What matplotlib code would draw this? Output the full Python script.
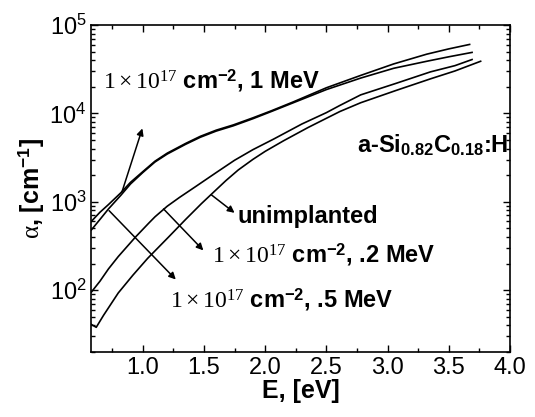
import matplotlib

matplotlib.use("Agg")
import matplotlib.pyplot as plt
from matplotlib.ticker import LogLocator, MultipleLocator, NullFormatter

plt.rcParams["font.family"] = ["Liberation Sans", "DejaVu Sans"]
plt.rcParams["mathtext.fontset"] = "custom"
plt.rcParams["mathtext.rm"] = "Liberation Serif"
plt.rcParams["mathtext.it"] = "Liberation Serif"
plt.rcParams["mathtext.bf"] = "Liberation Sans:bold"

# photon energy [eV] / absorption coefficient [cm^-1]
e_1mev = [0.58, 0.65, 0.72, 0.82, 0.90, 1.00, 1.10, 1.20, 1.35, 1.47, 1.60,
          1.74, 1.90, 2.05, 2.23, 2.50, 2.78, 3.05, 3.32, 3.50, 3.67]
a_1mev = [600, 760, 930, 1260, 1660, 2190, 2880, 3550, 4570, 5500, 6460,
          7410, 8910, 10700, 13500, 19500, 26900, 36300, 46800, 53700, 60300]

e_05mev = [0.58, 0.65, 0.72, 0.82, 0.90, 1.00, 1.10, 1.20, 1.35, 1.47, 1.60,
           1.74, 1.90, 2.05, 2.23, 2.50, 2.78, 3.05, 3.32, 3.50, 3.69]
a_05mev = [480, 630, 830, 1180, 1590, 2140, 2820, 3470, 4470, 5370, 6310,
           7240, 8710, 10500, 13200, 18600, 25100, 32400, 38900, 43700, 49000]

e_02mev = [0.58, 0.65, 0.72, 0.80, 0.94, 1.05, 1.10, 1.20, 1.30, 1.43, 1.60,
           1.75, 1.90, 2.07, 2.30, 2.50, 2.61, 2.78, 3.07, 3.35, 3.55, 3.69]
a_02mev = [95, 126, 174, 240, 398, 575, 676, 891, 1120, 1480, 2140,
           2950, 3890, 5130, 7590, 10200, 12300, 16200, 21900, 29500, 34700, 40700]

e_unimpl = [0.58, 0.62, 0.68, 0.80, 0.92, 1.04, 1.21, 1.35, 1.48, 1.58, 1.68,
            1.78, 1.90, 2.00, 2.15, 2.35, 2.61, 2.78, 3.07, 3.35, 3.55, 3.76]
a_unimpl = [41, 38, 52, 93, 148, 229, 398, 631, 955, 1290, 1740,
            2290, 3020, 3720, 4900, 6920, 10500, 13200, 18200, 24600, 30200, 38900]

fig = plt.figure(figsize=(5.35, 4.17), dpi=100)
ax = fig.add_axes([0.1707, 0.156, 0.7826, 0.784])

for e, a in [(e_1mev, a_1mev), (e_05mev, a_05mev), (e_02mev, a_02mev), (e_unimpl, a_unimpl)]:
    ax.plot(e, a, color="black", lw=1.2)

ax.set_yscale("log")
ax.set_xlim(0.58, 4.0)
ax.set_ylim(20, 1e5)
ax.xaxis.set_major_locator(MultipleLocator(0.5))
ax.xaxis.set_minor_locator(MultipleLocator(0.25))
ax.yaxis.set_major_locator(LogLocator(base=10, numticks=10))
ax.yaxis.set_minor_locator(LogLocator(base=10, subs=range(2, 10), numticks=10))
ax.yaxis.set_minor_formatter(NullFormatter())
ax.tick_params(which="both", direction="in", top=True, right=True, width=1.0)
ax.tick_params(which="major", length=5, labelsize=17)
ax.tick_params(which="minor", length=3)
ax.xaxis.set_major_formatter(plt.FuncFormatter(lambda v, p: f"{v:.1f}"))
for s in ax.spines.values():
    s.set_linewidth(1.2)

ax.set_xlabel("E, [eV]", fontsize=18, fontweight="bold", labelpad=0)
ax.set_ylabel(r"$\alpha$, [cm$^{\mathbf{-1}}$]", fontsize=18, fontweight="bold", labelpad=2)

arrow = dict(arrowstyle="-|>", color="black", lw=1.1, mutation_scale=10, shrinkA=0, shrinkB=0)
ax.annotate("", xy=(0.997, 6760), xytext=(0.83, 1290), arrowprops=arrow)
ax.annotate("", xy=(1.27, 132), xytext=(0.725, 794), arrowprops=arrow)
ax.annotate("", xy=(1.495, 282), xytext=(1.17, 830), arrowprops=arrow)
ax.annotate("", xy=(1.75, 750), xytext=(1.56, 1200), arrowprops=arrow)

txt = dict(fontsize=17, fontweight="bold", va="baseline", ha="left")
ax.text(0.676, 10 ** 4.28, r"$\mathrm{1\times10^{17}}$ cm$^{\mathbf{-2}}$, 1 MeV", **txt)
ax.text(2.75, 10 ** 3.56, r"a-Si$_{\mathbf{0.82}}$C$_{\mathbf{0.18}}$:H", **txt)
ax.text(1.77, 10 ** 2.76, "unimplanted", **txt)
ax.text(1.565, 10 ** 2.31, r"$\mathrm{1\times10^{17}}$ cm$^{\mathbf{-2}}$, .2 MeV", **txt)
ax.text(1.22, 10 ** 1.81, r"$\mathrm{1\times10^{17}}$ cm$^{\mathbf{-2}}$, .5 MeV", **txt)

fig.savefig("out.png", dpi=100)
